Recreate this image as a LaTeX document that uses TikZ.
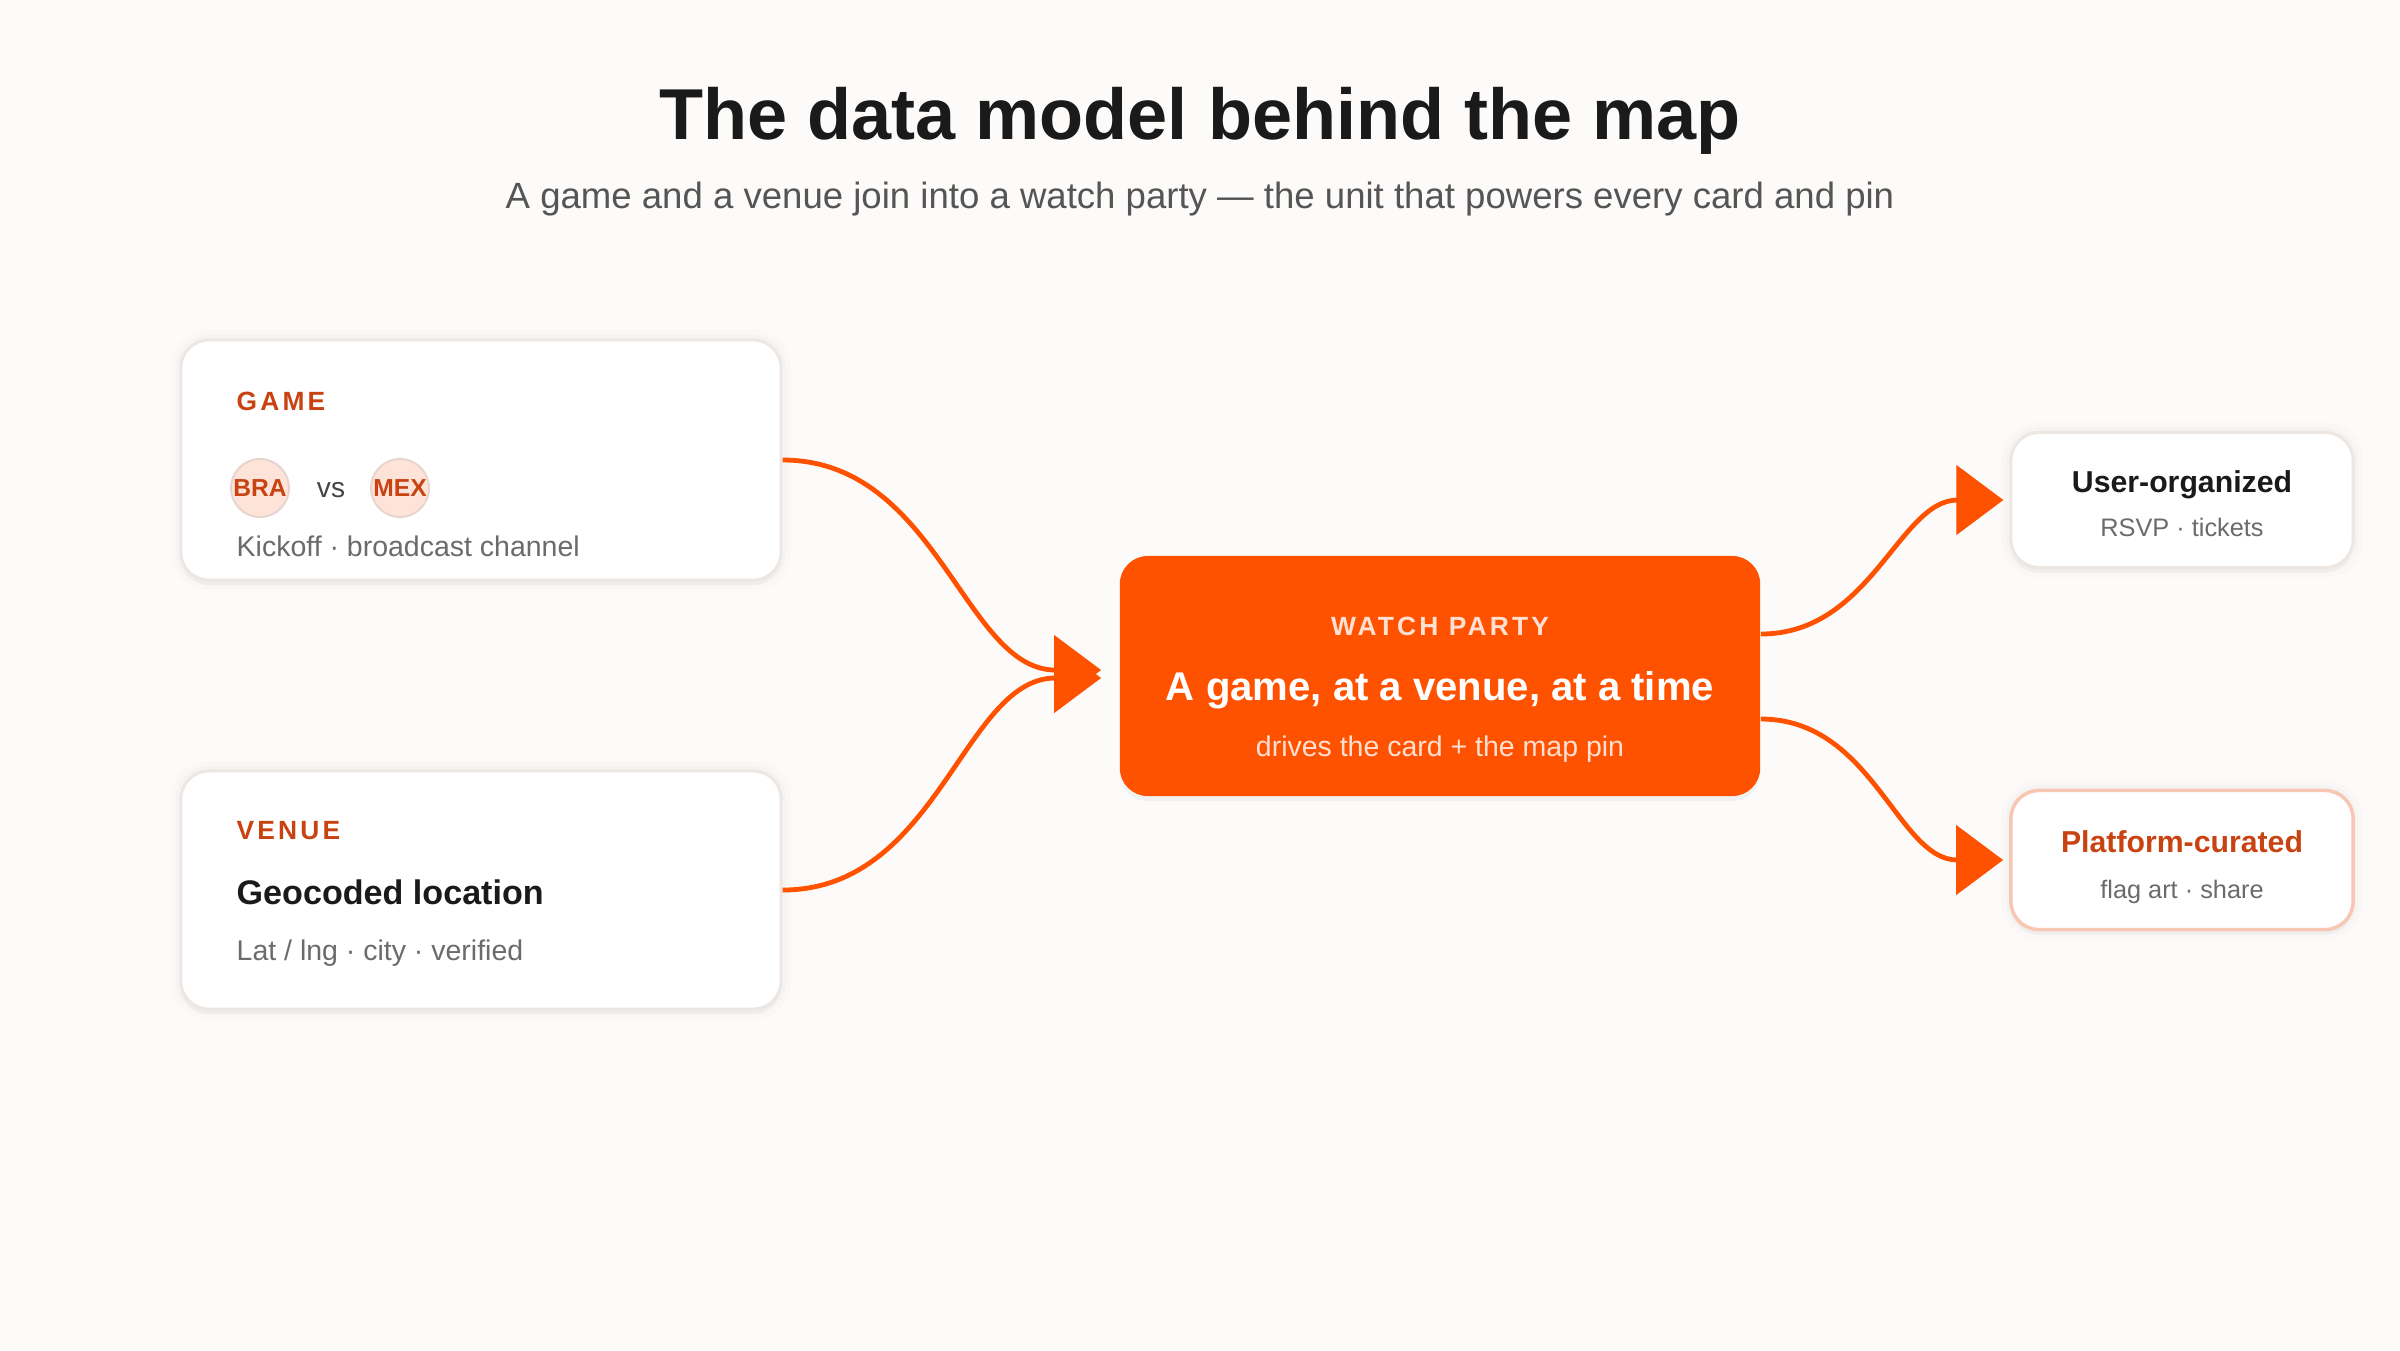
\documentclass[tikz,border=0pt]{standalone}
\usepackage{fontspec}
\setmainfont{Liberation Sans}
\newfontfamily\spacedfont[LetterSpace=12]{Liberation Sans}
\usetikzlibrary{positioning,arrows.meta,calc,shadows}
\definecolor{paper}{HTML}{FDFBF9}
\definecolor{accent}{HTML}{FF5200}
\definecolor{rust}{HTML}{C94312}
\definecolor{ink}{HTML}{1A1A1A}
\definecolor{subgray}{HTML}{555555}
\definecolor{muted}{HTML}{6B6B6B}
\definecolor{vsgray}{HTML}{444444}
\definecolor{edge}{HTML}{ECE7E2}
\definecolor{peach}{HTML}{FDE3D8}
\definecolor{peachrim}{HTML}{E6D6CF}
\definecolor{blush}{HTML}{FFE0D2}
\definecolor{rim}{HTML}{F7C7B3}
\tikzset{
  card/.style={draw=edge, line width=0.03cm, fill=white, rounded corners=0.28cm, inner sep=0pt,
    preaction={draw=black, draw opacity=0.012, line width=0.2cm},
    preaction={draw=black, draw opacity=0.015, line width=0.1cm},
    drop shadow={opacity=0.05, shadow xshift=0pt, shadow yshift=-0.05cm}},
  hub/.style={fill=accent, rounded corners=0.28cm, inner sep=0pt,
    drop shadow={opacity=0.08, shadow xshift=0pt, shadow yshift=-0.05cm}},
  tag/.style={anchor=west, inner sep=0pt, text=rust, font=\spacedfont\bfseries\fontsize{7.5}{9}\selectfont},
  note/.style={anchor=west, inner sep=0pt, text=muted, font=\fontsize{8.1}{10}\selectfont},
  badge/.style={circle, draw=peachrim, line width=0.02cm, fill=peach, minimum size=0.58cm, inner sep=0pt,
    text=rust, font=\bfseries\fontsize{7}{8}\selectfont},
  flow/.style={draw=accent, line width=0.048cm, -{Triangle[length=0.47cm,width=0.69cm]}}
}
\begin{document}
\begin{tikzpicture}[x=0.01cm,y=-0.01cm]
\path[use as bounding box, fill=paper] (0,0) rectangle (2400,1350);
\node[text=ink, font=\bfseries\fontsize{20.5}{24}\selectfont] (title) at (1200,121) {The data model behind the map};
\node[text=subgray, font=\fontsize{10.4}{12}\selectfont] (subtitle) at (1200,199) {A game and a venue join into a watch party — the unit that powers every card and pin};

\node[card, minimum width=6cm, minimum height=2.4cm] (game) at (481,460) {};
\node[tag] (gametag) at (236,401) {GAME};
\node[badge] (bra) at (260,488) {BRA};
\node[text=vsgray, font=\fontsize{8}{10}\selectfont] (vs) at (331,490) {vs};
\node[badge] (mex) at (400,488) {MEX};
\node[note] (kickoff) at (236,546) {Kickoff · broadcast channel};

\node[card, minimum width=6cm, minimum height=2.38cm] (venue) at (481,890) {};
\node[tag] (venuetag) at (236,831) {VENUE};
\node[anchor=west, inner sep=0pt, text=ink, font=\bfseries\fontsize{9.7}{12}\selectfont] (geo) at (236,892) {Geocoded location};
\node[note] (latlng) at (236,953) {Lat / lng · city · verified};

\node[hub, minimum width=6.4cm, minimum height=2.4cm] (party) at (1440,676) {};
\node[tag, anchor=center, text=blush] (partytag) at (1440,626) {WATCH PARTY};
\node[text=white, font=\bfseries\fontsize{11.4}{14}\selectfont] (partytitle) at (1440,690) {A game, at a venue, at a time};
\node[text=blush, font=\fontsize{8.1}{10}\selectfont] (partynote) at (1440,749) {drives the card + the map pin};

\node[card, minimum width=3.42cm, minimum height=1.35cm] (user) at (2182,500) {};
\node[text=ink, font=\bfseries\fontsize{8.6}{10}\selectfont] (usertitle) at (2182,485) {User-organized};
\node[text=muted, font=\fontsize{7.2}{9}\selectfont] (usernote) at (2182,527) {RSVP · tickets};

\node[card, draw=rim, line width=0.035cm, minimum width=3.42cm, minimum height=1.39cm] (platform) at (2182,860) {};
\node[text=rust, font=\bfseries\fontsize{8.6}{10}\selectfont] (platformtitle) at (2182,842) {Platform-curated};
\node[text=muted, font=\fontsize{7.2}{9}\selectfont] (platformnote) at (2182,892) {flag art · share};

\draw[flow, shorten >=0.18cm] (game.east) to[out=0,in=180] ($(party.west)+(0,-6)$);
\draw[flow, shorten >=0.18cm] (venue.east) to[out=0,in=180] ($(party.west)+(0,2)$);
\draw[flow, shorten >=0.06cm] ($(party.east)+(0,-42)$) to[out=0,in=180] (user.west);
\draw[flow, shorten >=0.06cm] ($(party.east)+(0,43)$) to[out=0,in=180] (platform.west);
\end{tikzpicture}
\end{document}
